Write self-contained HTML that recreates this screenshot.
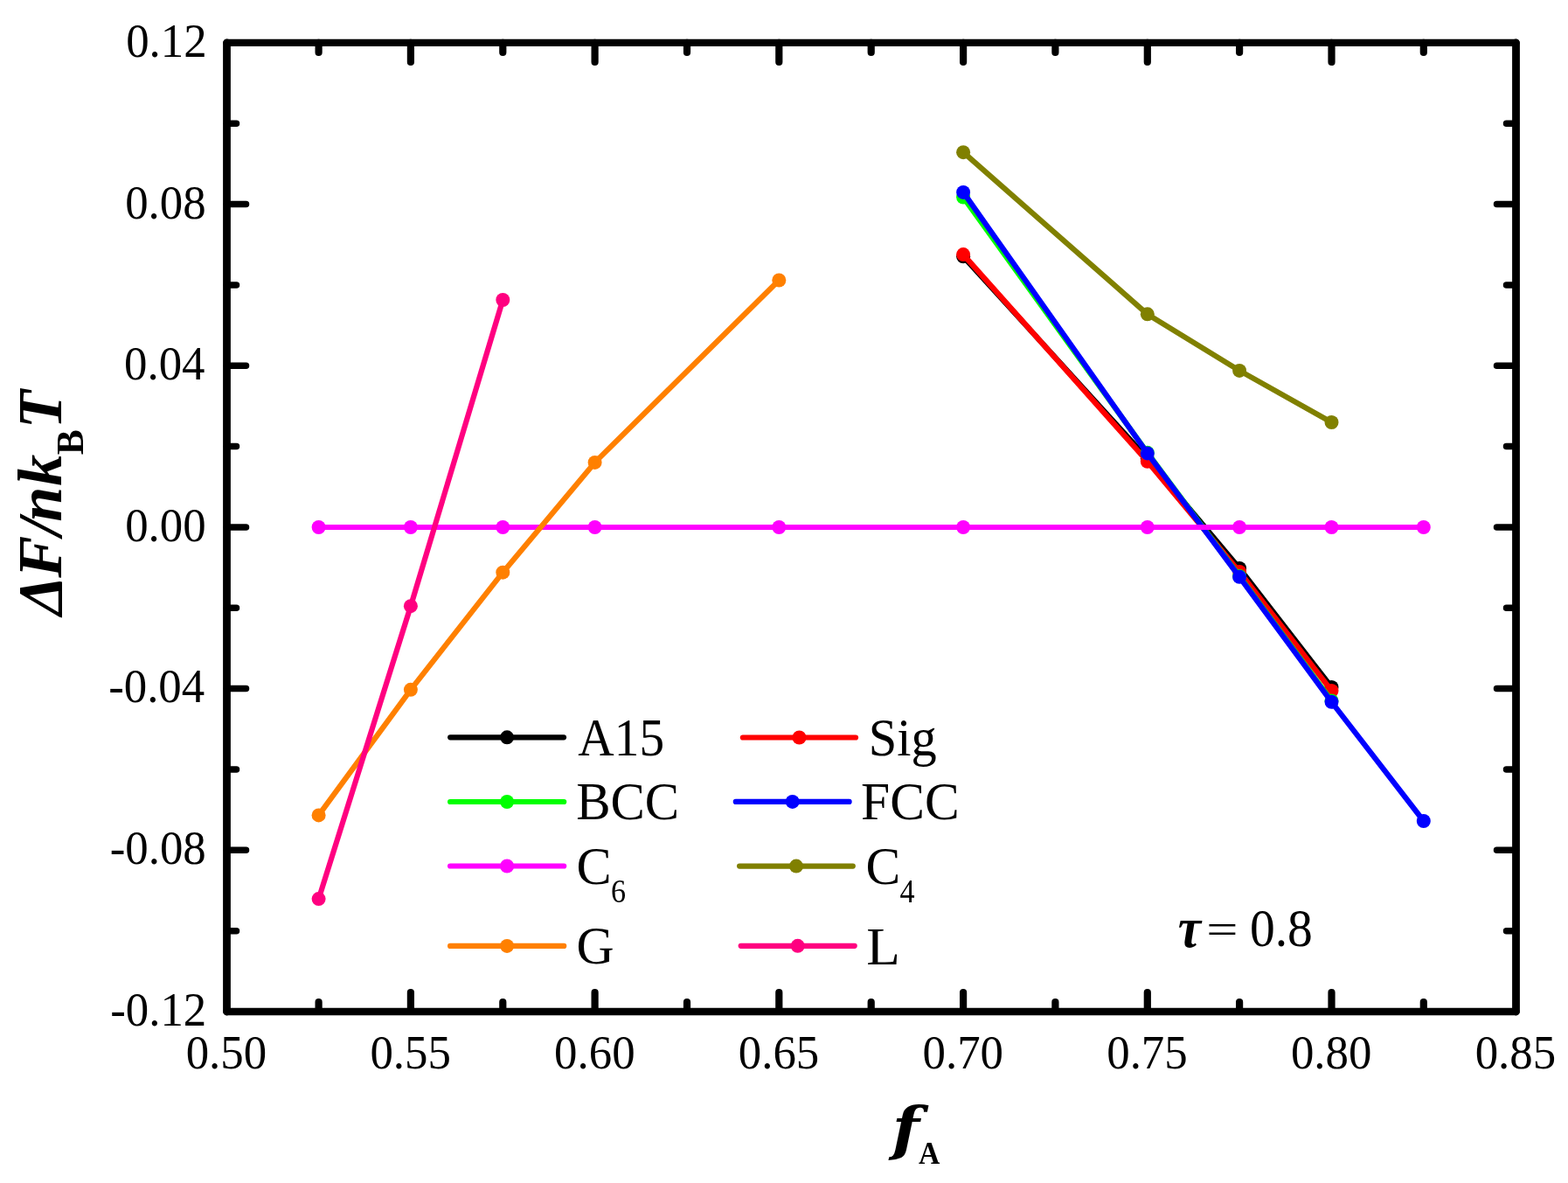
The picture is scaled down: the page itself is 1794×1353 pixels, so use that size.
<!DOCTYPE html>
<html><head><meta charset="utf-8"><title>Free energy plot</title>
<style>
html,body{margin:0;padding:0;background:#fff;}
body{width:1794px;height:1353px;overflow:hidden;}
svg{display:block;}
.t{font-family:"Liberation Serif","Times New Roman",serif;fill:#000;}
</style></head><body>
<svg width="1794" height="1353" viewBox="0 0 1794 1353">
<rect x="0" y="0" width="1794" height="1353" fill="#fff"/>
<g fill="#000000"><path d="M1102.1 293.3 L1312.8 524.5 L1418.1 650.0 L1523.5 786.0" fill="none" stroke="#000000" stroke-width="6.2" stroke-linejoin="round"/><circle cx="1102.1" cy="293.3" r="8.0"/><circle cx="1312.8" cy="524.5" r="8.0"/><circle cx="1418.1" cy="650.0" r="8.0"/><circle cx="1523.5" cy="786.0" r="8.0"/></g>
<g fill="#FF0000"><path d="M1102.1 291.1 L1312.8 527.8 L1418.1 654.0 L1523.5 790.0" fill="none" stroke="#FF0000" stroke-width="6.2" stroke-linejoin="round"/><circle cx="1102.1" cy="291.1" r="8.0"/><circle cx="1312.8" cy="527.8" r="8.0"/><circle cx="1418.1" cy="654.0" r="8.0"/><circle cx="1523.5" cy="790.0" r="8.0"/></g>
<g fill="#00FF00"><path d="M1102.1 225.6 L1312.8 517.8 L1418.1 659.0 L1523.5 801.5" fill="none" stroke="#00FF00" stroke-width="6.2" stroke-linejoin="round"/><circle cx="1102.1" cy="225.6" r="8.0"/><circle cx="1312.8" cy="517.8" r="8.0"/><circle cx="1418.1" cy="659.0" r="8.0"/><circle cx="1523.5" cy="801.5" r="8.0"/></g>
<g fill="#0000FF"><path d="M1102.1 219.9 L1312.8 518.4 L1418.1 659.8 L1523.5 802.8 L1628.8 939.0" fill="none" stroke="#0000FF" stroke-width="6.2" stroke-linejoin="round"/><circle cx="1102.1" cy="219.9" r="8.0"/><circle cx="1312.8" cy="518.4" r="8.0"/><circle cx="1418.1" cy="659.8" r="8.0"/><circle cx="1523.5" cy="802.8" r="8.0"/><circle cx="1628.8" cy="939.0" r="8.0"/></g>
<g fill="#FF00FF"><path d="M364.6 603.0 L469.9 603.0 L575.3 603.0 L680.6 603.0 L891.3 603.0 L1102.1 603.0 L1312.8 603.0 L1418.1 603.0 L1523.5 603.0 L1628.8 603.0" fill="none" stroke="#FF00FF" stroke-width="6.2" stroke-linejoin="round"/><circle cx="364.6" cy="603.0" r="8.0"/><circle cx="469.9" cy="603.0" r="8.0"/><circle cx="575.3" cy="603.0" r="8.0"/><circle cx="680.6" cy="603.0" r="8.0"/><circle cx="891.3" cy="603.0" r="8.0"/><circle cx="1102.1" cy="603.0" r="8.0"/><circle cx="1312.8" cy="603.0" r="8.0"/><circle cx="1418.1" cy="603.0" r="8.0"/><circle cx="1523.5" cy="603.0" r="8.0"/><circle cx="1628.8" cy="603.0" r="8.0"/></g>
<g fill="#808000"><path d="M1102.1 174.2 L1312.8 359.3 L1418.1 423.9 L1523.5 483.0" fill="none" stroke="#808000" stroke-width="6.2" stroke-linejoin="round"/><circle cx="1102.1" cy="174.2" r="8.0"/><circle cx="1312.8" cy="359.3" r="8.0"/><circle cx="1418.1" cy="423.9" r="8.0"/><circle cx="1523.5" cy="483.0" r="8.0"/></g>
<g fill="#FF8000"><path d="M364.6 932.4 L469.9 788.8 L575.3 654.7 L680.6 528.9 L891.3 320.5" fill="none" stroke="#FF8000" stroke-width="6.2" stroke-linejoin="round"/><circle cx="364.6" cy="932.4" r="8.0"/><circle cx="469.9" cy="788.8" r="8.0"/><circle cx="575.3" cy="654.7" r="8.0"/><circle cx="680.6" cy="528.9" r="8.0"/><circle cx="891.3" cy="320.5" r="8.0"/></g>
<g fill="#FF0080"><path d="M364.6 1028.1 L469.9 693.2 L575.3 343.0" fill="none" stroke="#FF0080" stroke-width="6.2" stroke-linejoin="round"/><circle cx="364.6" cy="1028.1" r="8.0"/><circle cx="469.9" cy="693.2" r="8.0"/><circle cx="575.3" cy="343.0" r="8.0"/></g>
<path d="M364.6 1157.0V1146.0M364.6 48.9V59.9M469.9 1157.0V1135.0M469.9 48.9V70.9M575.3 1157.0V1146.0M575.3 48.9V59.9M680.6 1157.0V1135.0M680.6 48.9V70.9M786.0 1157.0V1146.0M786.0 48.9V59.9M891.3 1157.0V1135.0M891.3 48.9V70.9M996.7 1157.0V1146.0M996.7 48.9V59.9M1102.1 1157.0V1135.0M1102.1 48.9V70.9M1207.4 1157.0V1146.0M1207.4 48.9V59.9M1312.8 1157.0V1135.0M1312.8 48.9V70.9M1418.1 1157.0V1146.0M1418.1 48.9V59.9M1523.5 1157.0V1135.0M1523.5 48.9V70.9M1628.8 1157.0V1146.0M1628.8 48.9V59.9" stroke="#000" stroke-width="8.2" stroke-linecap="round" fill="none"/>
<path d="M259.5 141.2H270.5M1734.5 141.2H1723.5M259.5 233.6H281.5M1734.5 233.6H1712.5M259.5 325.9H270.5M1734.5 325.9H1723.5M259.5 418.3H281.5M1734.5 418.3H1712.5M259.5 510.6H270.5M1734.5 510.6H1723.5M259.5 602.9H281.5M1734.5 602.9H1712.5M259.5 695.3H270.5M1734.5 695.3H1723.5M259.5 787.6H281.5M1734.5 787.6H1712.5M259.5 880.0H270.5M1734.5 880.0H1723.5M259.5 972.3H281.5M1734.5 972.3H1712.5M259.5 1064.7H270.5M1734.5 1064.7H1723.5" stroke="#000" stroke-width="7.5" stroke-linecap="round" fill="none"/>
<path d="M259.5 48.9V1157.0M1734.5 48.9V1157.0" stroke="#000" stroke-width="8.8" stroke-linecap="round" fill="none"/>
<path d="M259.5 48.9H1734.5M259.5 1157.0H1734.5" stroke="#000" stroke-width="8.3" stroke-linecap="round" fill="none"/>
<text class="t" transform="translate(212.67 1222.43) scale(0.952 1)" font-size="55.50">0.50</text>
<text class="t" transform="translate(423.38 1222.43) scale(0.952 1)" font-size="55.50">0.55</text>
<text class="t" transform="translate(634.10 1222.43) scale(0.952 1)" font-size="55.50">0.60</text>
<text class="t" transform="translate(844.81 1222.43) scale(0.952 1)" font-size="55.50">0.65</text>
<text class="t" transform="translate(1055.53 1222.43) scale(0.952 1)" font-size="55.50">0.70</text>
<text class="t" transform="translate(1266.24 1222.43) scale(0.952 1)" font-size="55.50">0.75</text>
<text class="t" transform="translate(1476.95 1222.43) scale(0.952 1)" font-size="55.50">0.80</text>
<text class="t" transform="translate(1687.67 1222.43) scale(0.952 1)" font-size="55.50">0.85</text>
<text class="t" transform="translate(144.21 65.16) scale(0.952 1)" font-size="55.50">0.12</text>
<text class="t" transform="translate(143.15 249.57) scale(0.952 1)" font-size="55.50">0.08</text>
<text class="t" transform="translate(142.09 434.25) scale(0.952 1)" font-size="55.50">0.04</text>
<text class="t" transform="translate(143.15 618.93) scale(0.952 1)" font-size="55.50">0.00</text>
<text class="t" transform="translate(124.13 803.02) scale(0.952 1)" font-size="55.50">-0.04</text>
<text class="t" transform="translate(125.71 987.70) scale(0.952 1)" font-size="55.50">-0.08</text>
<text class="t" transform="translate(126.24 1172.66) scale(0.952 1)" font-size="55.50">-0.12</text>
<path d="M515.2 843.3H645.0" stroke="#000000" stroke-width="6.2" stroke-linecap="round"/><circle cx="580.1" cy="843.3" r="8.0" fill="#000000"/>
<path d="M515.1 917.0H645.2" stroke="#00FF00" stroke-width="6.2" stroke-linecap="round"/><circle cx="580.1" cy="917.0" r="8.0" fill="#00FF00"/>
<path d="M515.1 990.5H645.2" stroke="#FF00FF" stroke-width="6.2" stroke-linecap="round"/><circle cx="580.1" cy="990.5" r="8.0" fill="#FF00FF"/>
<path d="M515.1 1081.9H645.2" stroke="#FF8000" stroke-width="6.2" stroke-linecap="round"/><circle cx="580.1" cy="1081.9" r="8.0" fill="#FF8000"/>
<path d="M849.9 843.5H979.0" stroke="#FF0000" stroke-width="6.2" stroke-linecap="round"/><circle cx="914.5" cy="843.5" r="8.0" fill="#FF0000"/>
<path d="M841.8 916.9H971.6" stroke="#0000FF" stroke-width="6.2" stroke-linecap="round"/><circle cx="906.7" cy="916.9" r="8.0" fill="#0000FF"/>
<path d="M846.1 990.6H975.8" stroke="#808000" stroke-width="6.2" stroke-linecap="round"/><circle cx="911.0" cy="990.6" r="8.0" fill="#808000"/>
<path d="M847.7 1081.8H977.7" stroke="#FF0080" stroke-width="6.2" stroke-linecap="round"/><circle cx="912.7" cy="1081.8" r="8.0" fill="#FF0080"/>
<text class="t" transform="translate(661.33 864.15) scale(0.925 1)" font-size="62.00">A15</text>
<text class="t" transform="translate(659.13 937.23) scale(0.951 1)" font-size="62.00">BCC</text>
<text class="t" transform="translate(659.39 1010.68) scale(0.971 1)" font-size="62.00">C</text>
<text class="t" transform="translate(698.93 1031.95) scale(0.913 1)" font-size="37.46">6</text>
<text class="t" transform="translate(659.51 1102.08) scale(0.963 1)" font-size="62.00">G</text>
<text class="t" transform="translate(993.71 864.20) scale(0.942 1)" font-size="62.00">Sig</text>
<text class="t" transform="translate(985.11 937.18) scale(0.961 1)" font-size="62.00">FCC</text>
<text class="t" transform="translate(990.61 1010.68) scale(0.962 1)" font-size="62.00">C</text>
<text class="t" transform="translate(1029.52 1032.00) scale(0.917 1)" font-size="37.23">4</text>
<text class="t" transform="translate(991.30 1102.95) scale(1.020 1)" font-size="62.00">L</text>
<text class="t" transform="translate(1380.29 1079.20) scale(1.350 1)" font-size="47.60">=</text>
<text class="t" transform="translate(1429.90 1082.28) scale(0.945 1)" font-size="60.90">0.8</text>
<text class="t" transform="translate(1347.72 1083.34) scale(0.890 1)" font-size="66.38" font-weight="bold" font-style="italic">τ</text>
<text class="t" transform="translate(1020.77 1313.63) scale(1.068 1)" font-size="68.19" font-weight="bold" font-style="italic" style="font-family:'DejaVu Serif','Liberation Serif',serif">f</text>
<text class="t" transform="translate(1051.06 1330.70) scale(0.931 1)" font-size="36.21" font-weight="bold">A</text>
<text class="t" transform="translate(70,704) rotate(-90)" x="0" y="0" font-size="72" font-weight="bold"><tspan font-style="italic">Δ<tspan dx="-2">F</tspan>/<tspan dx="-4">n</tspan><tspan dx="1">k</tspan></tspan><tspan font-size="43.5" dy="24.7" dx="-0.5">B</tspan><tspan font-style="italic" dy="-24.7" dx="1">T</tspan></text>
</svg>
</body></html>
